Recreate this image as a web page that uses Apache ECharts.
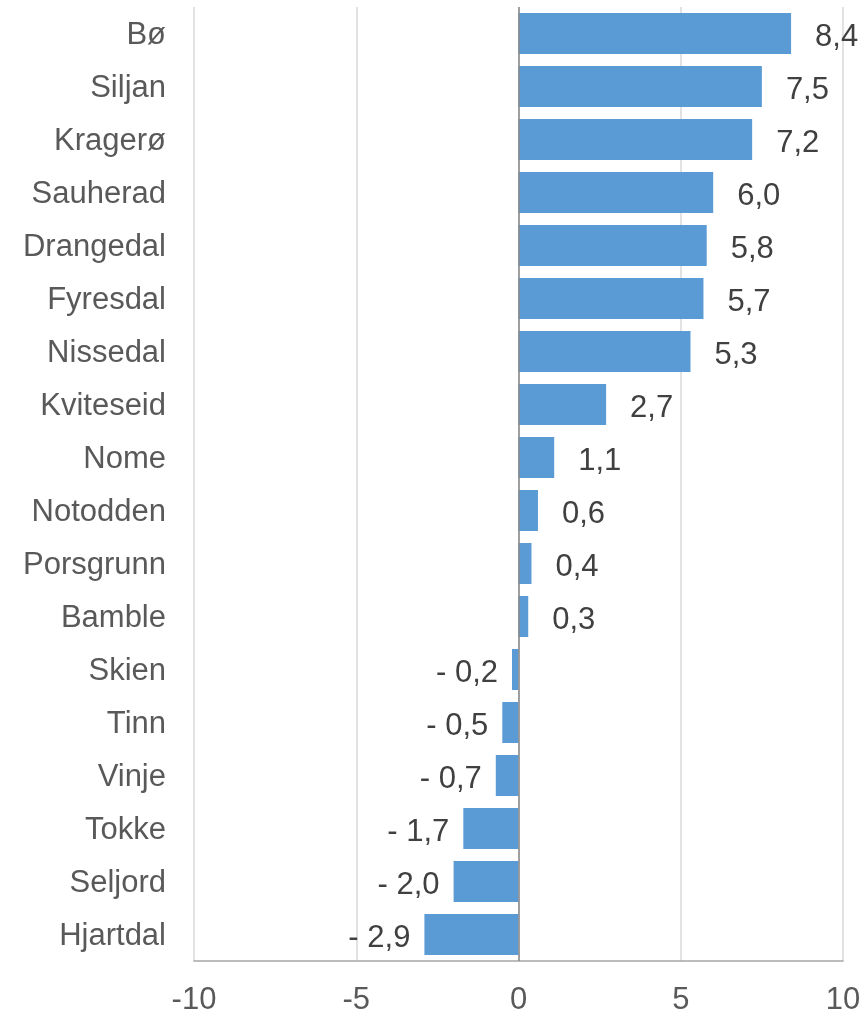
<!DOCTYPE html>
<html>
<head>
<meta charset="utf-8">
<script src="https://cdn.jsdelivr.net/npm/echarts@6/dist/echarts.min.js"></script>
<style>
html,body{margin:0;padding:0;background:#fff;}
#chart{width:867px;height:1016px;}
</style>
</head>
<body>
<div id="chart"></div>
<script>
const categories = ['Bø','Siljan','Kragerø','Sauherad','Drangedal','Fyresdal','Nissedal','Kviteseid','Nome','Notodden','Porsgrunn','Bamble','Skien','Tinn','Vinje','Tokke','Seljord','Hjartdal'];
const values = [8.4,7.5,7.2,6.0,5.8,5.7,5.3,2.7,1.1,0.6,0.4,0.3,-0.2,-0.5,-0.7,-1.7,-2.0,-2.9];
const xTicks = [-10,-5,0,5,10];

function fmt(v){
  const s = Math.abs(v).toFixed(1).replace('.', ',');
  return v < 0 ? '- ' + s : s;
}
const FF = '"Liberation Sans", Arial, sans-serif';
const FS = 31;

const chart = echarts.init(document.getElementById('chart'));
chart.setOption({
  animation:false,
  grid:{left:194,right:24,top:7,bottom:53,containLabel:false},
  xAxis:{
    type:'value',min:xTicks[0],max:xTicks[xTicks.length-1],interval:5,
    axisLine:{show:true,onZero:false,lineStyle:{color:'#a6a6a6',width:1.5}},
    axisTick:{show:false},
    splitLine:{show:true,lineStyle:{color:'#d9d9d9',width:1.5}},
    axisLabel:{color:'#595959',fontSize:FS,fontFamily:FF,margin:24}
  },
  yAxis:{
    type:'category',data:categories,inverse:true,
    axisLine:{show:false,onZero:false},
    axisTick:{show:false},
    axisLabel:{color:'#595959',fontSize:FS,fontFamily:FF,margin:28,
      formatter:'{a|{value}}',rich:{a:{color:'#595959',fontSize:FS,fontFamily:FF,padding:[4,0,0,0]}}}
  },
  series:[{
    type:'bar',
    barWidth:41,
    itemStyle:{color:'#5b9bd5'},
    data:values.map(v=>({
      value:v,
      label:{
        show:true,
        position: v<0 ? 'left' : 'right',
        distance: v<0 ? 14 : 24,
        offset:[0,4],
        formatter:()=>fmt(v),
        color:'#404040',fontSize:FS,fontFamily:FF
      }
    })),
    markLine:{
      silent:true,symbol:'none',label:{show:false},
      lineStyle:{color:'#888888',width:1.5,type:'solid'},
      data:[{xAxis:0}]
    }
  }]
});
</script>
</body>
</html>
